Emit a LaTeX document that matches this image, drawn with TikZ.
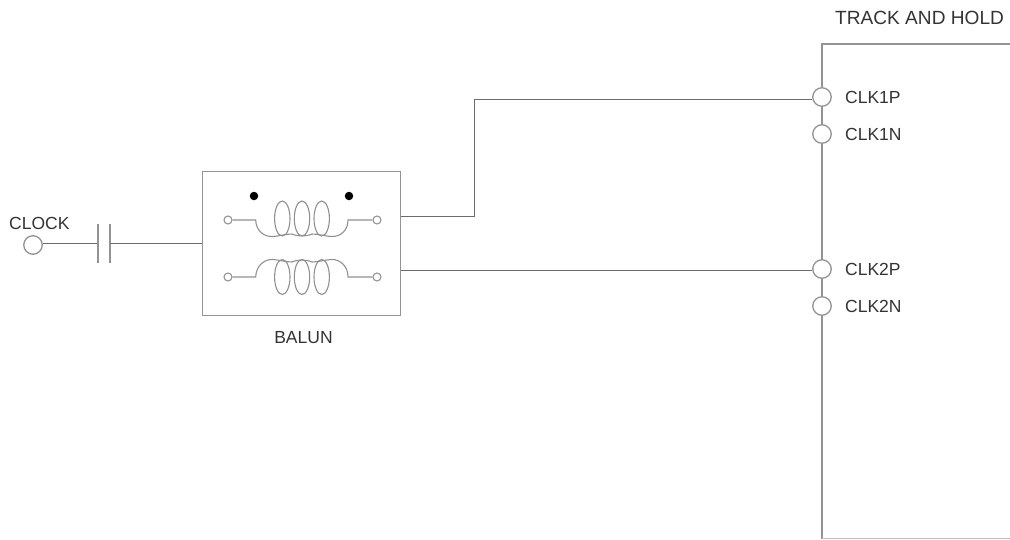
\documentclass[tikz,border=0pt]{standalone}
\usepackage{fontspec}
\setmainfont{Liberation Sans}
\definecolor{wire}{gray}{0.42}
\definecolor{frame}{gray}{0.58}
\definecolor{ink}{gray}{0.2}
\tikzset{
  wireline/.style={draw=wire, line width=1pt},
  frameline/.style={draw=frame, line width=1.5pt},
  coilline/.style={draw=wire!75, line width=1.1pt},
  pin/.style={circle, draw=frame, line width=1.3pt, fill=white, minimum size=18.5pt, inner sep=0pt},
  tap/.style={circle, draw=frame, line width=1.1pt, fill=white, minimum size=8pt, inner sep=0pt},
  lab/.style={text=ink, inner sep=0pt, anchor=west, font=\fontsize{17.5}{20}\selectfont},
  phasedot/.style={circle, fill=black, minimum size=8.5pt, inner sep=0pt}
}
\begin{document}
\begin{tikzpicture}[x=1pt, y=-1pt]
  \useasboundingbox (0, 0) rectangle (1010, 539);
  % track and hold block
  \draw[frameline] (1010, 44) -- (822, 44) -- (822, 539);
  \draw[draw=black!25, line width=0.8pt] (822, 538.6) -- (1010, 538.6);
  \node[lab, font=\fontsize{19.1}{22}\selectfont] (tracklab) at (835, 18) {TRACK AND HOLD};
  \foreach \nm/\ypos/\txt in {a/97/CLK1P, b/134/CLK1N, c/269/CLK2P, d/306/CLK2N} {
    \node[pin] (\nm) at (822, \ypos) {};
    \node[lab] (\nm lab) at (845, \ypos) {\txt};
  }
  % balun
  \node[frameline, minimum width=198pt, minimum height=144pt, inner sep=0pt] (balun) at (301.3, 243.7) {};
  \node[lab, anchor=center] (balunlab) at (303.5, 338) {BALUN};
  \node[phasedot] (dotl) at (254, 196) {};
  \node[phasedot] (dotr) at (349, 196) {};
  \foreach \cx in {282.3, 302, 321.7} {
    \draw[coilline] (\cx, 218.5) ellipse[x radius=7.7, y radius=17.5];
    \draw[coilline] (\cx, 277) ellipse[x radius=7.7, y radius=17.5];
  }
  \node[tap] (tl) at (228, 220) {};
  \node[tap] (tr) at (377, 220) {};
  \node[tap] (bl) at (228, 277) {};
  \node[tap] (br) at (377, 277) {};
  \draw[coilline] (tl) -- (255.7, 220) .. controls (256, 230) and (263, 237) .. (273, 236.5)
    .. controls (280, 236) and (285, 234) .. (292, 234)
    .. controls (297, 236.5) and (307, 236.5) .. (312, 234)
    .. controls (319, 234) and (324, 236) .. (331, 236.5)
    .. controls (341, 237) and (348, 230) .. (348, 220) -- (tr);
  \draw[coilline] (bl) -- (255.7, 277) .. controls (256, 267) and (263, 259) .. (273, 259.5)
    .. controls (280, 260) and (285, 262) .. (292, 262)
    .. controls (297, 259.5) and (307, 259.5) .. (312, 262)
    .. controls (319, 262) and (324, 260) .. (331, 259.5)
    .. controls (341, 259) and (348, 267) .. (348, 277) -- (br);
  % clock side
  \node[lab] (clocklab) at (9, 223) {CLOCK};
  \node[pin] (clk) at (33, 245) {};
  \coordinate (capl) at (98, 243.5);
  \coordinate (capr) at (110, 243.5);
  \draw[wireline] (capl -| clk.east) -- (capl);
  \draw[frameline] (98, 224) -- (98, 263);
  \draw[frameline] (110, 224) -- (110, 263);
  \draw[wireline] (capr) -- (capr -| balun.west);
  % outputs
  \draw[wireline] (balun.east |- 0, 216) -- (474, 216) -- (474, 99) -- (a.west |- 0, 99);
  \draw[wireline] (balun.east |- 0, 270) -- (c.west |- 0, 270);
\end{tikzpicture}
\end{document}
